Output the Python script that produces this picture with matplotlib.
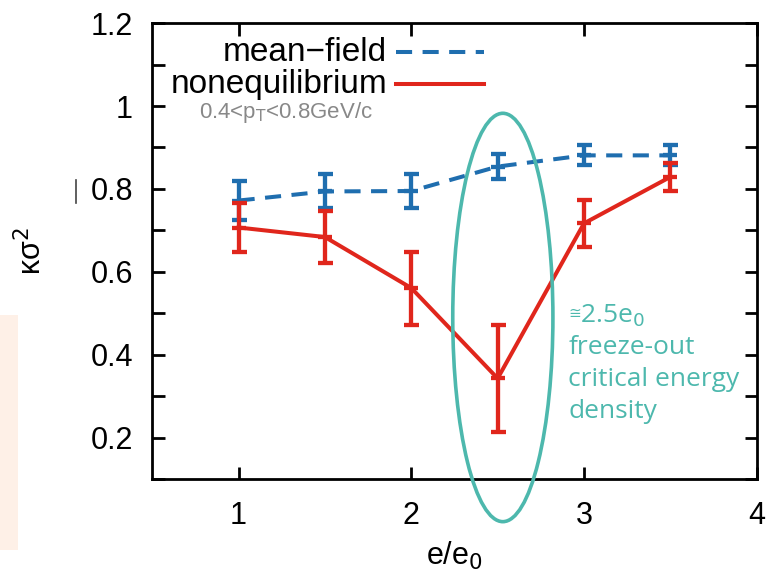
import matplotlib
matplotlib.use('Agg')
import matplotlib.pyplot as plt
from matplotlib.patches import Ellipse, Rectangle
from matplotlib.lines import Line2D

# data
e_ratio = [1.0, 1.5, 2.0, 2.5, 3.0, 3.5]
mf_val = [0.772, 0.794, 0.795, 0.854, 0.881, 0.881]
mf_err = [0.046, 0.041, 0.042, 0.030, 0.024, 0.024]
neq_val = [0.707, 0.684, 0.561, 0.343, 0.717, 0.829]
neq_err = [0.059, 0.063, 0.088, 0.130, 0.057, 0.033]
x_ticks = [1, 2, 3, 4]
y_ticks = [0.2, 0.4, 0.6, 0.8, 1.0, 1.2]
y_tick_labels = ['0.2', '0.4', '0.6', '0.8', '1', '1.2']

blue = '#1f6eaf'
red = '#e0261c'
teal = '#4db8ad'
dash = (0, (4, 2.6))

plt.rcParams['font.family'] = ['Liberation Sans', 'DejaVu Sans']

fig = plt.figure(figsize=(7.69, 5.78), dpi=100)
ax = fig.add_axes([0.198, 0.171, 0.786, 0.789])

# slide background strip on the left
fig.add_artist(Rectangle((0, 0.048), 0.024, 0.407, transform=fig.transFigure,
                         facecolor='#fef0e7', edgecolor='none', zorder=0))

ax.errorbar(e_ratio, mf_val, yerr=mf_err, color=blue, lw=2.9, ls=dash,
            marker='_', ms=10.5, mew=3.1,
            capsize=5.4, capthick=3.1, elinewidth=3.1, zorder=3)
ax.errorbar(e_ratio, neq_val, yerr=neq_err, color=red, lw=2.9,
            marker='_', ms=10.5, mew=3.1,
            capsize=5.4, capthick=3.1, elinewidth=3.1, zorder=4)

ell = Ellipse((2.53, 0.49), 0.58, 0.985, facecolor='none', edgecolor=teal,
              lw=2.6, clip_on=False, zorder=5)
ax.add_patch(ell)

# annotation next to the ellipse
ax.text(2.91, 0.499, '\u2245', color=teal, fontsize=11,
        family=['DejaVu Sans'], va='center', ha='left')
ax.annotate('2.5e$_0$', xy=(2.91, 0.477), xytext=(8.6, 0),
            textcoords='offset points', color=teal, fontsize=19,
            family='Open Sans', va='baseline', ha='left')
ax.text(2.91, 0.447, 'freeze-out\ncritical energy\ndensity',
        color=teal, fontsize=19, family='Open Sans',
        va='top', ha='left', linespacing=1.37)

# legend drawn by hand like gnuplot's key
ax.text(1.86, 1.13, 'mean\u2212field', fontsize=24, ha='right', va='center')
ax.plot([1.91, 2.42], [1.13, 1.13], color=blue, lw=2.9, ls=dash)
ax.text(1.86, 1.052, 'nonequilibrium', fontsize=24, ha='right', va='center')
ax.plot([1.91, 2.42], [1.052, 1.052], color=red, lw=2.9)
ax.text(0.77, 0.985, '0.4<p$_\\mathrm{T}$<0.8GeV/c', fontsize=16, color='#888888',
        ha='left', va='center')

ax.set_xlim(0.5, 4)
ax.set_ylim(0.1, 1.2)
ax.set_xticks(x_ticks)
ax.set_yticks(y_ticks)
ax.set_yticklabels(y_tick_labels)
ax.set_yticks([0.1, 0.3, 0.5, 0.7, 0.9, 1.1], minor=True)
ax.tick_params(which='both', direction='in', top=True, right=True, width=2,
               length=9, labelsize=22)
ax.tick_params(axis='x', pad=16)
ax.tick_params(axis='y', pad=14)
for s in ax.spines.values():
    s.set_linewidth(2)

ax.set_xlabel('e/e$_0$', fontsize=22, labelpad=6)
ax.set_ylabel('\u03ba\u03c3$^2$', fontsize=22)
ax.yaxis.set_label_coords(-0.172, 0.5)

fig.add_artist(Line2D([0.0985, 0.0985], [0.649, 0.688], transform=fig.transFigure,
                      color='#444444', lw=1.2))

fig.savefig('out.png', dpi=100)
